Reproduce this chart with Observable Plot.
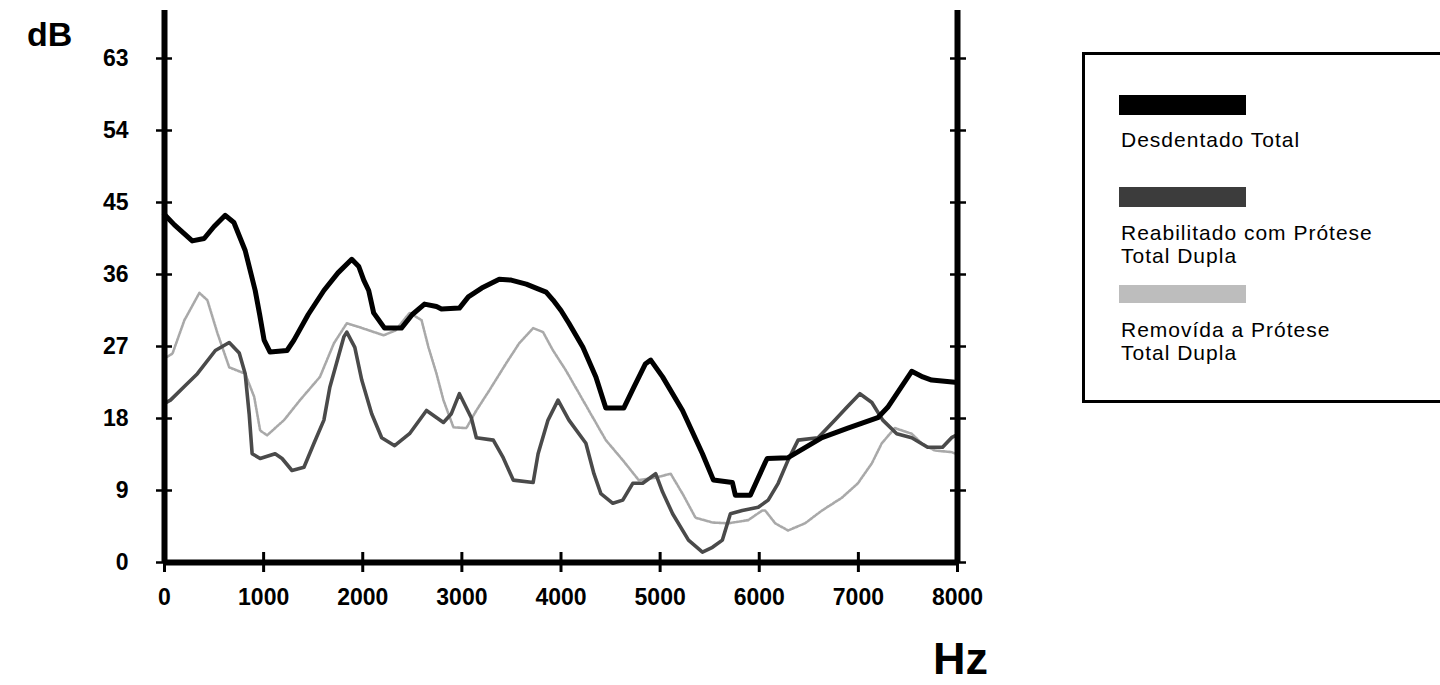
<!DOCTYPE html>
<html>
<head>
<meta charset="utf-8">
<script src="https://cdn.jsdelivr.net/npm/d3@7"></script>
<script src="https://cdn.jsdelivr.net/npm/@observablehq/plot@0.6"></script>
<style>
html, body { margin: 0; padding: 0; background: #fff; }
#wrap { position: relative; width: 1440px; height: 685px; overflow: hidden; font-family: "Liberation Sans", Arial, Helvetica, sans-serif; color: #000; }
#chart { position: absolute; left: 0; top: 0; }
.lbl { position: absolute; font-weight: bold; line-height: 1; white-space: nowrap; }
#legendBox { position: absolute; left: 1082px; top: 52px; width: 420px; height: 351px; border: 3px solid #000; box-sizing: border-box; }
.sw { position: absolute; left: 1119px; width: 127px; }
.lt { position: absolute; left: 1121px; font-size: 21px; line-height: 23px; letter-spacing: 1px; white-space: nowrap; }
</style>
</head>
<body>
<div id="wrap">
  <div id="chart"></div>
  <div class="lbl" style="left:27px; top:17px; font-size:34px;">dB</div>
  <div class="lbl" style="left:933px; top:636px; font-size:45px;">Hz</div>
  <div id="legendBox"></div>
</div>
<script>
// ---- data ----
const xTicks = [0, 1000, 2000, 3000, 4000, 5000, 6000, 7000, 8000];
const yTicks = [0, 9, 18, 27, 36, 45, 54, 63];

const seriesNames = ["Desdentado Total", "Reabilitado com Prótese\nTotal Dupla", "Removída a Prótese\nTotal Dupla"];

const hzDesdentado = [0, 100, 280, 400, 500, 613, 700, 814, 915, 960, 1005, 1065, 1236, 1306, 1450, 1608, 1750, 1889, 1960, 2010, 2060, 2110, 2220, 2390, 2500, 2623, 2744, 2794, 2975, 3065, 3200, 3377, 3497, 3650, 3749, 3850, 3920, 4000, 4080, 4221, 4352, 4452, 4633, 4734, 4850, 4905, 5025, 5226, 5427, 5538, 5729, 5759, 5910, 5990, 6060, 6080, 6291, 6633, 6894, 7196, 7296, 7538, 7650, 7739, 8000];
const dbDesdentado = [43.5, 42.2, 40.2, 40.5, 42, 43.4, 42.5, 39, 34, 31, 27.8, 26.3, 26.5, 27.8, 31, 34, 36.2, 37.9, 37, 35.3, 34, 31.2, 29.3, 29.3, 31, 32.3, 32, 31.7, 31.8, 33.2, 34.3, 35.4, 35.3, 34.8, 34.3, 33.8, 32.8, 31.5, 29.9, 26.9, 23.2, 19.3, 19.3, 21.9, 24.8, 25.3, 23.2, 19, 13.6, 10.3, 10, 8.4, 8.4, 10.6, 12.5, 13, 13.1, 15.6, 16.8, 18.1, 19.4, 23.9, 23.2, 22.8, 22.5];

const hzReabilitado = [0, 60, 200, 332, 513, 653, 754, 814, 854, 884, 965, 1116, 1186, 1286, 1407, 1508, 1608, 1668, 1809, 1839, 1920, 1990, 2090, 2191, 2322, 2472, 2643, 2814, 2894, 2975, 3095, 3146, 3317, 3417, 3518, 3719, 3769, 3869, 3970, 4080, 4251, 4332, 4402, 4523, 4623, 4724, 4824, 4955, 5025, 5126, 5286, 5427, 5528, 5628, 5709, 5829, 5990, 6090, 6191, 6291, 6392, 6593, 6764, 6884, 7015, 7136, 7246, 7387, 7538, 7698, 7849, 7940, 8000];
const dbReabilitado = [19.9, 20.3, 22, 23.6, 26.5, 27.5, 26.2, 23.6, 18.6, 13.6, 13, 13.6, 13, 11.5, 11.9, 14.9, 17.8, 21.9, 28.2, 28.8, 26.9, 22.8, 18.6, 15.6, 14.6, 16.1, 19, 17.5, 18.6, 21.1, 18.1, 15.6, 15.3, 13.1, 10.3, 10, 13.6, 17.8, 20.3, 17.8, 14.9, 11.1, 8.6, 7.4, 7.8, 9.9, 9.9, 11.1, 8.8, 6.1, 2.8, 1.3, 1.9, 2.8, 6.1, 6.5, 6.9, 7.8, 9.9, 12.8, 15.3, 15.6, 17.8, 19.4, 21.1, 20, 17.8, 16.1, 15.6, 14.4, 14.4, 15.6, 16];

const hzRemovida = [0, 80, 201, 352, 432, 533, 653, 814, 905, 965, 1035, 1206, 1367, 1568, 1709, 1839, 1970, 2211, 2330, 2472, 2593, 2663, 2744, 2814, 2915, 3045, 3146, 3276, 3447, 3578, 3719, 3819, 3920, 4050, 4281, 4452, 4623, 4784, 4955, 5106, 5226, 5357, 5528, 5688, 5889, 6030, 6060, 6161, 6291, 6462, 6633, 6834, 6995, 7136, 7236, 7367, 7538, 7638, 7769, 7940, 8000];
const dbRemovida = [25.5, 26.1, 30.3, 33.7, 32.8, 28.7, 24.4, 23.6, 20.7, 16.5, 15.9, 17.8, 20.3, 23.2, 27.4, 29.9, 29.4, 28.4, 29, 31.2, 30.3, 26.9, 23.6, 20.3, 16.9, 16.8, 19, 21.5, 24.9, 27.4, 29.3, 28.8, 26.5, 24, 19, 15.3, 12.8, 10.3, 10.6, 11.1, 8.6, 5.6, 5, 4.9, 5.3, 6.5, 6.5, 4.9, 4, 4.9, 6.5, 8.1, 9.9, 12.4, 14.9, 16.8, 16.1, 14.9, 14, 13.8, 13.5];

// ---- build tables ----
const toRows = (hz, db) => hz.map((h, i) => ({hz: h, db: db[i]}));
const desdentado = toRows(hzDesdentado, dbDesdentado);
const reabilitado = toRows(hzReabilitado, dbReabilitado);
const removida = toRows(hzRemovida, dbRemovida);

const tickFont = {fontSize: 23, fontWeight: "bold"};
const plain = d => String(d);

const chart = Plot.plot({
  width: 1440,
  height: 685,
  marginLeft: 164,
  marginRight: 483,
  marginTop: 10,
  marginBottom: 123,
  style: {fontFamily: "'Liberation Sans', Arial, Helvetica, sans-serif", background: "white", color: "black", overflow: "visible"},
  x: {domain: [0, 8000]},
  y: {domain: [0, 69]},
  marks: [
    Plot.line(removida, {x: "hz", y: "db", stroke: "#a9a9a9", strokeWidth: 2.6, strokeDasharray: "2,1.4"}),
    Plot.line(reabilitado, {x: "hz", y: "db", stroke: "#4a4a4a", strokeWidth: 3.6, strokeLinejoin: "round"}),
    Plot.line(desdentado, {x: "hz", y: "db", stroke: "#000", strokeWidth: 5, strokeLinejoin: "round"}),
    Plot.ruleX([0, 8000], {stroke: "#000", strokeWidth: 6}),
    Plot.ruleY([0], {stroke: "#000", strokeWidth: 6}),
    // ticks crossing the axes
    Plot.axisY(yTicks, {anchor: "left", tickSize: 16, dx: 8, fill: "none", strokeWidth: 2.5, label: null}),
    Plot.axisY(yTicks, {anchor: "right", tickSize: 16, dx: -8, fill: "none", strokeWidth: 2.5, label: null}),
    Plot.axisX(xTicks, {anchor: "bottom", tickSize: 20, dy: -10, fill: "none", strokeWidth: 3, label: null}),
    // tick labels
    Plot.axisY(yTicks, {anchor: "left", tickSize: 0, tickPadding: 36, label: null, tickFormat: plain, ...tickFont}),
    Plot.axisX(xTicks, {anchor: "bottom", tickSize: 0, tickPadding: 26, label: null, tickFormat: plain, ...tickFont})
  ]
});
document.getElementById("chart").appendChild(chart);

// ---- legend ----
const swatchColors = ["#000", "#3c3c3c", "#bdbdbd"];
const swatchTops = [95, 187, 285];
const textTops = [128, 221, 318];
const wrap = document.getElementById("wrap");
seriesNames.forEach((name, i) => {
  const sw = document.createElement("div");
  sw.className = "sw";
  sw.style.top = swatchTops[i] + "px";
  sw.style.height = (i === 2 ? 18 : 20) + "px";
  sw.style.background = swatchColors[i];
  wrap.appendChild(sw);
  const t = document.createElement("div");
  t.className = "lt";
  t.style.top = textTops[i] + "px";
  name.split("\n").forEach(line => {
    const s = document.createElement("div");
    s.textContent = line;
    t.appendChild(s);
  });
  wrap.appendChild(t);
});
</script>
</body>
</html>
